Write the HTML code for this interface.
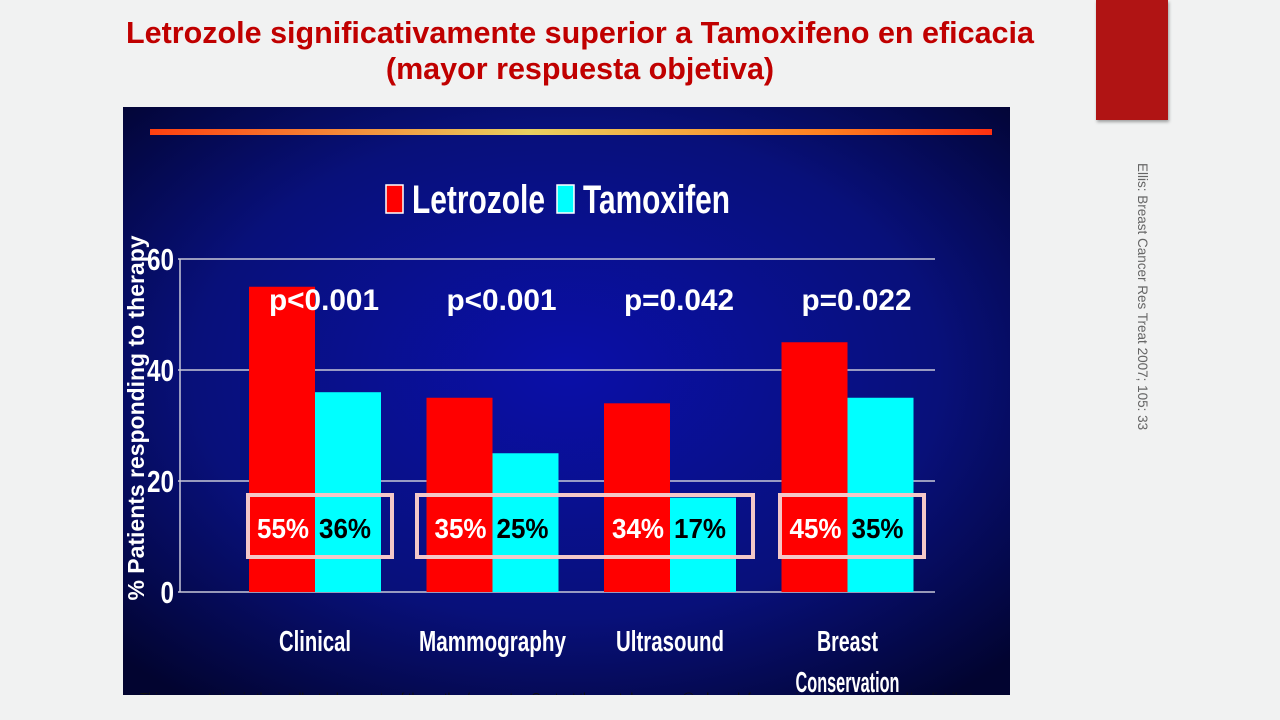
<!DOCTYPE html>
<html><head><meta charset="utf-8"><style>
body{margin:0;width:1280px;height:720px;overflow:hidden;background:#f1f2f2;font-family:"Liberation Sans",sans-serif;position:relative}
.title{position:absolute;left:40px;width:1080px;top:15px;text-align:center;color:#c00000;font-weight:bold;font-size:30.5px;line-height:36px}
.redbox{position:absolute;left:1096px;top:0;width:72px;height:120px;background:#b01414;box-shadow:1px 2px 3px rgba(0,0,0,.35)}
.cite{position:absolute;left:1140px;top:163px;transform-origin:0 0;transform:translate(10px,0) rotate(90deg);white-space:nowrap;font-size:13.5px;color:#666}
</style></head><body>
<div class="title">Letrozole significativamente superior a Tamoxifeno en eficacia<br>(mayor respuesta objetiva)</div>
<div class="redbox"></div>
<div class="cite">Ellis: Breast Cancer Res Treat 2007; 105: 33</div>
<svg id="chart" style="position:absolute;left:0;top:0" width="1280" height="720">
<defs>
<radialGradient id="bg" cx="0.5" cy="0.45" r="0.7"><stop offset="0" stop-color="#0a0fa8"/><stop offset="0.6" stop-color="#08107a"/><stop offset="1" stop-color="#020430"/></radialGradient>
<linearGradient id="stripe" x1="0" x2="1"><stop offset="0" stop-color="#ff4010"/><stop offset="0.45" stop-color="#e8d060"/><stop offset="0.8" stop-color="#ff8020"/><stop offset="1" stop-color="#ff3010"/></linearGradient>
<clipPath id="cp"><rect x="123" y="107" width="887" height="588"/></clipPath>
</defs>
<rect x="123" y="107" width="887" height="588" fill="url(#bg)"/>
<rect x="150" y="129" width="842" height="6" fill="url(#stripe)"/>
<g id="g" clip-path="url(#cp)"></g>
</svg>
<script>
const categories=["Clinical","Mammography","Ultrasound","Breast"];
const letrozole=[55,35,34,45];
const tamoxifen=[36,25,17,35];
const pvalues=["p<0.001","p<0.001","p=0.042","p=0.022"];
const ticks=[0,20,40,60];
const NS="http://www.w3.org/2000/svg";
const g=document.getElementById('g');
const y=v=>592-v*(333/60);
const gx=i=>249+i*177.5;
const bw=66;
const catW={"Clinical":72,"Mammography":147,"Ultrasound":108,"Breast":61};
function mk(t,a,txt){const e=document.createElementNS(NS,t);for(const k in a)e.setAttribute(k,a[k]);if(txt!==undefined)e.textContent=txt;g.appendChild(e);return e;}
ticks.forEach(t=>{
 const l=mk('line',{x1:178,x2:935,y1:y(t),y2:y(t),stroke:'#c8c8d8','stroke-width':1.5});
 
 
 const s=String(t);
 const tx=mk('text',{x:174-13.5*s.length,y:y(t)+11,fill:'#fff','font-size':31,'font-weight':'bold',textLength:13.5*s.length,lengthAdjust:'spacingAndGlyphs'},s);
 
 
});
const ax=mk('line',{x1:180,x2:180,y1:y(60),y2:y(0),stroke:'#c8c8d8','stroke-width':1.5});


const yt=mk('text',{x:0,y:0,transform:'translate(144,418) rotate(-90)','text-anchor':'middle',fill:'#fff','font-size':23,'font-weight':'bold',textLength:365,lengthAdjust:'spacingAndGlyphs'},'% Patients responding to therapy');


categories.forEach((c,i)=>{
 const x=gx(i);
 const r=mk('rect',{x:x,y:y(letrozole[i]),width:bw,height:y(0)-y(letrozole[i]),fill:'#ff0000'});
 
 
 const b=mk('rect',{x:x+bw,y:y(tamoxifen[i]),width:bw,height:y(0)-y(tamoxifen[i]),fill:'#00ffff'});
 
 
 const p=mk('text',{x:x+20,y:310,fill:'#fff','font-size':30,'font-weight':'bold',textLength:110,lengthAdjust:'spacingAndGlyphs'},pvalues[i]);
 
 
 const v1=mk('text',{x:x+8,y:538,fill:'#fff','font-size':28,'font-weight':'bold',textLength:52,lengthAdjust:'spacingAndGlyphs'},letrozole[i]+'%');
 
 
 const v2=mk('text',{x:x+bw+4,y:538,fill:'#000','font-size':28,'font-weight':'bold',textLength:52,lengthAdjust:'spacingAndGlyphs'},tamoxifen[i]+'%');
 
 
 const cl=mk('text',{x:x+bw-catW[c]/2,y:651,fill:'#fff','font-size':29,'font-weight':'bold',textLength:catW[c],lengthAdjust:'spacingAndGlyphs'},c);
 
 
 if(c==='Breast'){const c2=mk('text',{x:x+bw-52,y:692,fill:'#fff','font-size':29,'font-weight':'bold',textLength:104,lengthAdjust:'spacingAndGlyphs'},'Conservation');
 
 }
});
[[248,392],[417,753],[780,924]].forEach(bx=>{
 const r=mk('rect',{x:bx[0],y:495,width:bx[1]-bx[0],height:62,fill:'none',stroke:'#f4c8c8','stroke-width':4});
 
 
});
const lg=[["Letrozole","#ff0000",386,412,133],["Tamoxifen","#00ffff",557,583,147]];
lg.forEach(l=>{
 const s=mk('rect',{x:l[2],y:185,width:17,height:28,fill:l[1],stroke:'#fff','stroke-width':1.5});
 
 
 const t=mk('text',{x:l[3],y:213,fill:'#fff','font-size':40,'font-weight':'bold',textLength:l[4],lengthAdjust:'spacingAndGlyphs'},l[0]);
 
 
});
const ft=mk('text',{x:140,y:702,fill:'#111','font-size':13,textLength:840,lengthAdjust:'spacingAndGlyphs'},'This presentation is the intellectual property of the author/presenter. Contact them at dermeran@ed.ac.uk for permission to reprint and/or distribute');


</script>
</body></html>
